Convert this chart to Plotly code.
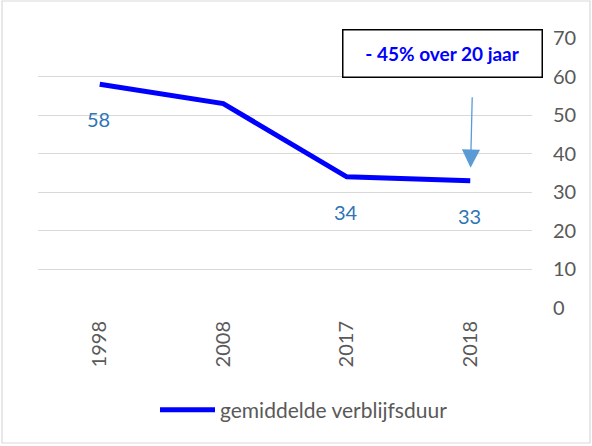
import plotly.graph_objects as go

years = ["1998", "2008", "2017", "2018"]
values = [58, 53, 34, 33]
labels = ["58", None, "34", "33"]
series_name = "gemiddelde verblijfsduur"
box_text = "<b>- 45% over 20 jaar</b>"

W, H = 592, 446
L, R, T, B = 38, 60, 38, 138
pw, ph = W - L - R, H - T - B

def px(x):
    return (x - L) / pw

def py(y):
    return (H - B - y) / ph

FONT = "Lato"
GRAY = "#595959"

fig = go.Figure()
fig.add_trace(go.Scatter(
    x=years, y=values, mode="lines", name=series_name,
    line=dict(color="#0000FF", width=5),
))

ann = []
for i, (v, lb) in enumerate(zip(values, labels)):
    if lb is None:
        continue
    ann.append(dict(x=i, y=v, text=lb, showarrow=False, yshift=-35, xshift=-1,
                    font=dict(family=FONT, size=20, color="#2E75B6")))

# arrow pointing at 2018 value
ann.append(dict(x=len(years) - 1, y=values[-1], text="", showarrow=True, ax=2, ay=-85,
                standoff=13, arrowhead=2, arrowsize=2.8, arrowwidth=1.3,
                arrowcolor="#5B9BD5"))

# box annotation
ann.append(dict(xref="paper", yref="paper", x=px(442), y=py(55), text=box_text,
                showarrow=False, bordercolor="black", borderwidth=1.5, bgcolor="white",
                width=196, height=44, font=dict(family=FONT, size=19, color="#0000FF"),
                xanchor="center", yanchor="middle", yshift=2))

fig.update_layout(
    width=W, height=H,
    margin=dict(l=L, r=R, t=T, b=B),
    paper_bgcolor="white", plot_bgcolor="white",
    font=dict(family=FONT, color=GRAY, size=20),
    showlegend=True,
    legend=dict(orientation="h", x=px(304), xanchor="center", y=py(410), yanchor="middle",
                font=dict(family=FONT, size=21, color=GRAY), itemwidth=55),
    xaxis=dict(type="category", range=[-0.5, len(years) - 0.5], autorange=False,
               tickangle=-90, showgrid=False, showline=False, ticklabelstandoff=8,
               ticks="", tickfont=dict(family=FONT, size=20, color=GRAY), zeroline=False),
    yaxis=dict(side="right", range=[0, 70], dtick=10, showgrid=True, gridcolor="#D9D9D9",
               gridwidth=1.3, zeroline=False, showline=False, ticks="",
               ticklabelstandoff=20,
               tickfont=dict(family=FONT, size=20, color=GRAY)),
    annotations=ann,
    shapes=[dict(type="rect", xref="paper", yref="paper",
                 x0=px(2), x1=px(590), y0=py(443), y1=py(1),
                 line=dict(color="#D9D9D9", width=1.2), fillcolor="rgba(0,0,0,0)", layer="below")],
)

fig.write_html("out.html", config={"displayModeBar": False},
               post_script="document.body.style.margin='0';document.body.style.padding='0';")
